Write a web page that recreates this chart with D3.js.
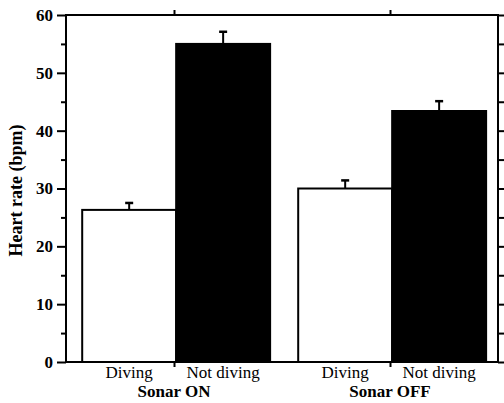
<!DOCTYPE html>
<html>
<head>
<meta charset="utf-8">
<script src="https://cdn.jsdelivr.net/npm/d3@7"></script>
<style>
  body { margin: 0; background: #fff; }
  svg { display: block; }
  .axis path, .axis line { stroke: #000; stroke-width: 2; }
  .axis text { font-family: "Liberation Serif", "Times New Roman", serif; font-weight: bold; font-size: 17px; fill: #000; }
</style>
</head>
<body>
<script>
// data
const groups = ['Sonar ON', 'Sonar OFF'];
const conditions = ['Diving', 'Not diving'];
const meanHR = [[26.3, 55.0], [30.0, 43.4]];
const errHR = [[1.2, 2.1], [1.4, 1.7]];
const yMajor = [0, 10, 20, 30, 40, 50, 60];
const yMinor = [5, 15, 25, 35, 45, 55];

const W = 504, H = 403;
const margin = {top: 15, right: 6, bottom: 41, left: 66};
const width = W - margin.left - margin.right,
      height = H - margin.top - margin.bottom;

const data = [];
groups.forEach((g, gi) => conditions.forEach((c, ci) => {
    data.push({group: g, gi: gi + 1, cond: c, ci, mean: meanHR[gi][ci], err: errHR[gi][ci]});
}));

const x = d3.scaleLinear().domain([0.5, 2.5]).range([0, width]);
const y = d3.scaleLinear().domain([0, 60]).range([height, 0]);
const barW = 0.435, shift = 0.01;

const svg = d3.select("body").append("svg")
    .attr("width", W)
    .attr("height", H);

const g = svg.append("g")
    .attr("transform", `translate(${margin.left},${margin.top})`);

// bars
g.selectAll(".bar")
  .data(data)
  .join("rect")
    .attr("class", "bar")
    .attr("x", d => x(d.gi + shift - (d.ci === 0 ? barW : 0)))
    .attr("width", x(barW) - x(0))
    .attr("y", d => y(d.mean))
    .attr("height", d => y(0) - y(d.mean))
    .attr("fill", d => d.ci === 0 ? "#fff" : "#000")
    .attr("stroke", "#000")
    .attr("stroke-width", 2);

// error bars
const cx = d => x(d.gi + shift + (d.ci === 0 ? -barW / 2 : barW / 2));
g.selectAll(".err")
  .data(data)
  .join("line")
    .attr("x1", cx).attr("x2", cx)
    .attr("y1", d => y(d.mean)).attr("y2", d => y(d.mean + d.err))
    .attr("stroke", "#000").attr("stroke-width", 2);
g.selectAll(".cap")
  .data(data)
  .join("line")
    .attr("x1", d => cx(d) - 4).attr("x2", d => cx(d) + 4)
    .attr("y1", d => y(d.mean + d.err)).attr("y2", d => y(d.mean + d.err))
    .attr("stroke", "#000").attr("stroke-width", 2.5);

// axes
g.append("g").attr("class", "axis")
    .call(d3.axisLeft(y).tickValues(yMajor).tickSize(9).tickPadding(4).tickFormat(d3.format("d")))
    .call(s => s.select(".domain").remove());
g.append("g").attr("class", "axis")
    .call(d3.axisLeft(y).tickValues(yMinor).tickSize(5).tickFormat(""))
    .call(s => s.select(".domain").remove());
g.append("g").attr("class", "axis")
    .attr("transform", `translate(${width},0)`)
    .call(d3.axisRight(y).tickValues(yMajor.concat(yMinor)).tickSize(6).tickFormat(""))
    .call(s => s.select(".domain").remove());
g.append("g").attr("class", "axis")
    .call(d3.axisTop(x).tickValues([1, 2]).tickSize(5).tickFormat(""))
    .call(s => s.select(".domain").remove());
g.append("g").attr("class", "axis")
    .attr("transform", `translate(0,${height})`)
    .call(d3.axisBottom(x).tickValues([1, 2]).tickSize(5).tickFormat(""))
    .call(s => s.select(".domain").remove());

// frame
g.append("rect")
    .attr("width", width).attr("height", height)
    .attr("fill", "none").attr("stroke", "#000").attr("stroke-width", 2);

// category labels
g.selectAll(".cond")
  .data(data)
  .join("text")
    .attr("x", cx)
    .attr("y", height + 16)
    .attr("text-anchor", "middle")
    .style("font-family", "'Liberation Serif', 'Times New Roman', serif")
    .style("font-size", "17px")
    .text(d => d.cond);

g.selectAll(".grp")
  .data(groups)
  .join("text")
    .attr("x", (d, i) => x(i + 1))
    .attr("y", height + 35)
    .attr("text-anchor", "middle")
    .style("font-family", "'Liberation Serif', 'Times New Roman', serif")
    .style("font-weight", "bold")
    .style("font-size", "17px")
    .text(d => d);

// y label
svg.append("text")
    .attr("transform", `translate(22,${margin.top + height / 2 + 2}) rotate(-90)`)
    .attr("text-anchor", "middle")
    .style("font-family", "'Liberation Serif', 'Times New Roman', serif")
    .style("font-weight", "bold")
    .style("font-size", "18px")
    .text("Heart rate (bpm)");
</script>
</body>
</html>
